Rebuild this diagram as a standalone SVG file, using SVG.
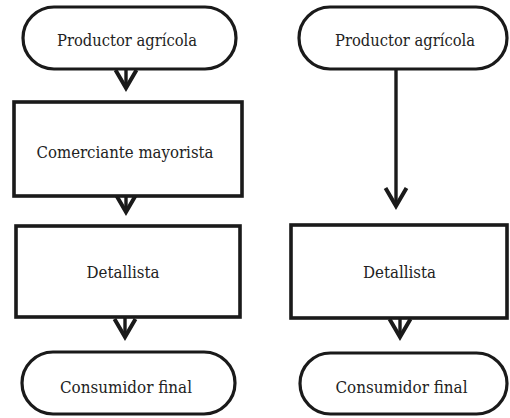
<svg xmlns="http://www.w3.org/2000/svg" width="510" height="418" viewBox="0 0 510 418">
  <style>
    .term { fill: #ffffff; stroke: #1a1a1a; stroke-width: 3.2; }
    .box { fill: #ffffff; stroke: #1a1a1a; stroke-width: 3.6; }
    .lbl { font-family: 'DejaVu Serif Condensed', 'DejaVu Serif', serif; font-stretch: condensed; font-size: 17px; fill: #222222; text-anchor: middle; }
    .conn { fill: none; stroke: #1a1a1a; stroke-width: 3.4; }
  </style>
  <defs>
    <marker id="vhead" markerUnits="userSpaceOnUse" viewBox="-24 -14 30 28" markerWidth="30" markerHeight="28" refX="0" refY="0" orient="auto">
      <path d="M-18,-10.5 L0,0 L-18,10.5" fill="none" stroke="#1a1a1a" stroke-width="4" stroke-linejoin="miter" stroke-miterlimit="10"/>
    </marker>
  </defs>
  <rect width="510" height="418" fill="#ffffff"/>

  <g id="connectors">
    <line class="conn" x1="126" y1="69" x2="126" y2="88" marker-end="url(#vhead)"/>
    <line class="conn" x1="126" y1="196" x2="126" y2="212" marker-end="url(#vhead)"/>
    <line class="conn" x1="125" y1="317" x2="125" y2="337" marker-end="url(#vhead)"/>
    <line class="conn" x1="396" y1="69" x2="396" y2="206" marker-end="url(#vhead)"/>
    <line class="conn" x1="400" y1="318" x2="400" y2="337" marker-end="url(#vhead)"/>
  </g>

  <g id="productor-izq">
    <rect class="term" x="23" y="7" width="213" height="62" rx="31" ry="31"/>
    <text class="lbl" x="127" y="46" textLength="140" lengthAdjust="spacingAndGlyphs">Productor agrícola</text>
  </g>
  <g id="comerciante">
    <rect class="box" x="14" y="102" width="228" height="94"/>
    <text class="lbl" x="125" y="158" textLength="177" lengthAdjust="spacingAndGlyphs">Comerciante mayorista</text>
  </g>
  <g id="detallista-izq">
    <rect class="box" x="16" y="226" width="224" height="91"/>
    <text class="lbl" x="123" y="278" textLength="73" lengthAdjust="spacingAndGlyphs">Detallista</text>
  </g>
  <g id="consumidor-izq">
    <rect class="term" x="22" y="352" width="213" height="62" rx="31" ry="31"/>
    <text class="lbl" x="126" y="393" textLength="132" lengthAdjust="spacingAndGlyphs">Consumidor final</text>
  </g>

  <g id="productor-der">
    <rect class="term" x="299" y="7" width="208" height="62" rx="31" ry="31"/>
    <text class="lbl" x="405" y="46" textLength="140" lengthAdjust="spacingAndGlyphs">Productor agrícola</text>
  </g>
  <g id="detallista-der">
    <rect class="box" x="291" y="225" width="216" height="93"/>
    <text class="lbl" x="399.5" y="278" textLength="73" lengthAdjust="spacingAndGlyphs">Detallista</text>
  </g>
  <g id="consumidor-der">
    <rect class="term" x="300" y="353" width="207" height="61" rx="30.5" ry="30.5"/>
    <text class="lbl" x="401.5" y="393" textLength="132" lengthAdjust="spacingAndGlyphs">Consumidor final</text>
  </g>
</svg>
